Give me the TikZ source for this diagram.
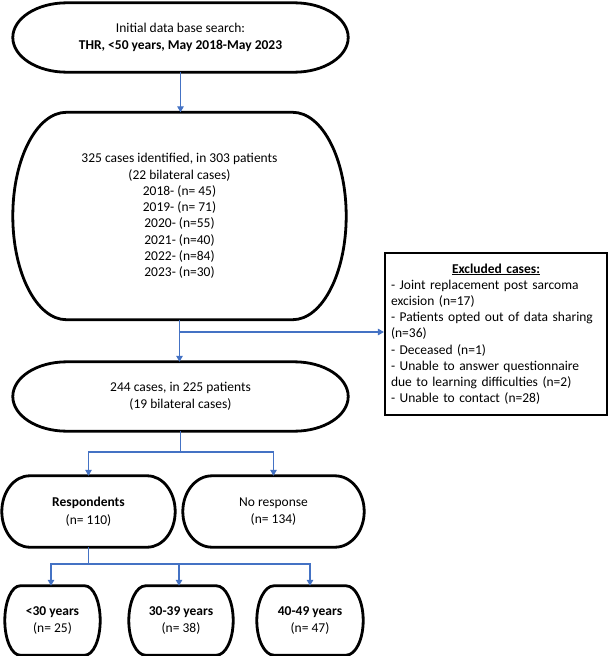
\documentclass[tikz,border=0pt]{standalone}
\usepackage{fontspec}
\setmainfont{Carlito}
\usetikzlibrary{arrows.meta,calc}
\definecolor{arrowblue}{RGB}{68,114,196}
\tikzset{
  box/.style={inner sep=0pt, align=center, font=\fontsize{13.5bp}{16.3bp}\selectfont},
  boxtwo/.style={inner sep=0pt, align=center, font=\fontsize{13.5bp}{17.5bp}\selectfont},
  termline/.style={draw=black, line width=2.8bp},
  exclbox/.style={draw=black, line width=2.2bp, inner xsep=5bp, inner ysep=0pt, align=left,
    font=\fontsize{13.5bp}{16.2bp}\selectfont},
  link/.style={draw=arrowblue, line width=1.3bp},
  arrow/.style={link, -{Triangle[width=6.5bp,length=6bp]}}
}
\newcommand\termdraw[1]{%
  \draw[termline] let \p1=(#1.north west), \p2=(#1.south east),
    \n1={(\x2-\x1)*0.1607}, \n2={(\y1-\y2)/2} in
    ($(\x1,\y1)+(\n1,0pt)$) -- ($(\x2,\y1)-(\n1,0pt)$)
    arc[start angle=90, end angle=-90, x radius=\n1, y radius=\n2]
    -- ($(\x1,\y2)+(\n1,0pt)$)
    arc[start angle=270, end angle=90, x radius=\n1, y radius=\n2] -- cycle;}
\begin{document}
\begin{tikzpicture}[x=1bp, y=-1bp]
\useasboundingbox (0,0) rectangle (609,656);
\node[boxtwo, minimum width=335bp, minimum height=69bp] (b1) at (180.5,37.5)
  {Initial data base search:\\\textbf{THR, <50 years, May 2018-May 2023}};
\node[box, minimum width=333bp, minimum height=207bp] (b2) at (179.5,216)
  {325 cases identified, in 303 patients\\(22 bilateral cases)\\2018- (n= 45)\\2019- (n= 71)\\2020- (n=55)\\2021- (n=40)\\2022- (n=84)\\2023- (n=30)};
\node[boxtwo, minimum width=335bp, minimum height=69bp] (b3) at (180.5,396.5)
  {244 cases, in 225 patients\\(19 bilateral cases)};
\node[exclbox, minimum width=222bp, minimum height=162bp, text width=210bp] (ex) at (496,334)
  {\makebox[210bp][c]{\textbf{\underline{Excluded cases:}}}\\
   - Joint replacement post sarcoma\\excision (n=17)\\
   - Patients opted out of data sharing\\(n=36)\\
   - Deceased (n=1)\\
   - Unable to answer questionnaire\\due to learning difficulties (n=2)\\
   - Unable to contact (n=28)};
\node[boxtwo, minimum width=173bp, minimum height=71bp] (resp) at (88.5,511.5)
  {\textbf{Respondents}\\(n= 110)};
\node[boxtwo, minimum width=181bp, minimum height=71bp] (nores) at (273.5,511.5)
  {No response\\(n= 134)};
\node[boxtwo, minimum width=95bp, minimum height=69bp] (a1) at (52.5,620.5)
  {\textbf{<30 years}\\(n= 25)};
\node[boxtwo, minimum width=104bp, minimum height=69bp] (a2) at (181,620.5)
  {\textbf{30-39 years}\\(n= 38)};
\node[boxtwo, minimum width=106bp, minimum height=69bp] (a3) at (310,620.5)
  {\textbf{40-49 years}\\(n= 47)};
\termdraw{b1}\termdraw{b2}\termdraw{b3}\termdraw{resp}\termdraw{nores}
\termdraw{a1}\termdraw{a2}\termdraw{a3}
% connectors
\draw[arrow] (b1.south) -- (b1.south |- b2.north);
\coordinate (br) at (179.5,332);
\draw[arrow] (b2.south) -- (b2.south |- b3.north);
\draw[arrow] (br) -- (br -| ex.west);
\coordinate (j1) at (180.5,452);
\draw[link] (b3.south) -- (j1);
\draw[arrow] (j1) -| (resp.north);
\draw[arrow] (j1) -| (nores.north);
\coordinate (j2) at (88.5,564);
\draw[link] (resp.south) -- (j2);
\draw[arrow] (j2) -| ([xshift=-1.5bp]a1.north);
\draw[arrow] (j2) -| ([xshift=-2bp]a2.north);
\draw[arrow] (j2) -| (a3.north);
\end{tikzpicture}
\end{document}
